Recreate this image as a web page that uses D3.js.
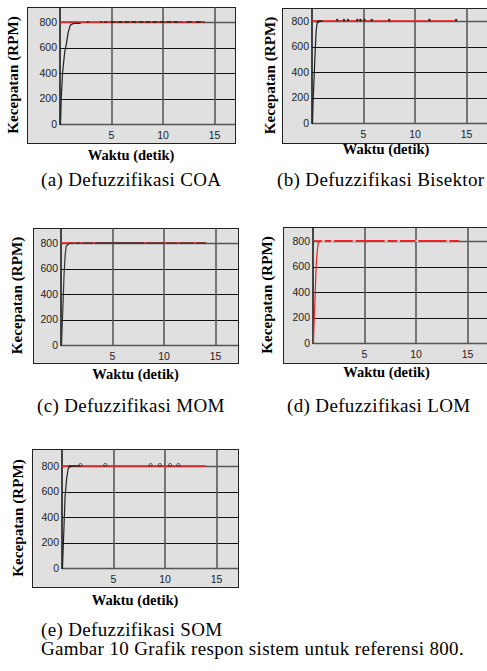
<!DOCTYPE html>
<html>
<head>
<meta charset="utf-8">
<script src="https://cdn.jsdelivr.net/npm/d3@7"></script>
<style>
  body { margin: 0; background: #fff; }
  svg { display: block; }
  .serif { font-family: "Liberation Serif", "Times New Roman", serif; }
  .sans { font-family: "Liberation Sans", Arial, sans-serif; }
</style>
</head>
<body>
<script>
// tick values shared by all five plots
var yTicks = [0, 200, 400, 600, 800]
var xTicks = [5, 10, 15]
var reference = 800
var refEnd = 14

// rising part of each response, [detik, rpm]
var riseCOA = [[0, 0], [0.05, 0], [0.12, 200], [0.25, 400], [0.45, 560], [0.6, 620], [0.8, 720], [1.0, 775], [1.2, 785], [1.6, 790], [2.0, 790]]
var riseBIS = [[0, 0], [0.05, 0], [0.1, 150], [0.2, 350], [0.3, 550], [0.4, 720], [0.5, 785], [0.7, 795], [1.0, 800]]
var riseMOM = [[0, 0], [0.05, 0], [0.1, 120], [0.2, 330], [0.3, 560], [0.4, 700], [0.5, 775], [0.7, 790], [0.9, 800]]
var riseLOM = [[0, 0], [0.05, 0], [0.1, 150], [0.2, 350], [0.3, 600], [0.4, 710], [0.5, 780], [0.65, 795], [0.8, 800]]
var riseSOM = [[0, 0], [0.05, 0], [0.1, 120], [0.2, 340], [0.3, 560], [0.45, 700], [0.6, 780], [0.8, 795], [1.0, 800]]

// steady-state stretches where the response sits on top of the reference
var steadyCOA = [[2.6, 2.8], [3.9, 4.1], [4.3, 4.6], [4.9, 11.8], [12.3, 13.0], [13.2, 14.0]]
var steadyBIS = [[0.5, 1.0]]
var steadyMOM = [[0.9, 1.2], [1.4, 1.9], [2.1, 3.1], [3.3, 8.1], [8.3, 10.0], [10.2, 11.3], [11.5, 12.9], [13.1, 14.1]]
var steadyLOM = [[0.8, 14.2]]
var steadySOM = [[0.6, 1.7]]

// small ripples seen along the 800 line
var ripplesCOA = []
var ripplesBIS = [2.45, 3.1, 3.5, 4.4, 4.7, 5.1, 5.8, 7.5, 11.4, 14.0]
var ripplesMOM = []
var ripplesLOM = [1.0, 1.9, 4.0, 7.1, 8.3, 10.1, 13.1]
var ripplesSOM = [1.8, 4.2, 8.6, 9.5, 10.5, 11.3]

var captions = ["(a) Defuzzifikasi COA", "(b) Defuzzifikasi Bisektor", "(c) Defuzzifikasi MOM",
                "(d) Defuzzifikasi LOM", "(e) Defuzzifikasi SOM"]
var figureTitle = "Gambar 10 Grafik respon sistem untuk referensi 800."

var width = 487
var height = 671

// where each small plot sits on the page
var panels = [
    {x: 27, y: 7, w: 208, h: 136, left: 33, bottom: 19, xlab: 17, ylab: -14, cap: [41, 186],
     rise: riseCOA, steady: steadyCOA, ripples: ripplesCOA, color: "#222", ripple: "dot"},
    {x: 282, y: 8, w: 208, h: 135, left: 30, bottom: 20, xlab: 11, ylab: -12, cap: [277, 186],
     rise: riseBIS, steady: steadyBIS, ripples: ripplesBIS, color: "#222", ripple: "dot"},
    {x: 33, y: 228, w: 205, h: 135, left: 28, bottom: 18, xlab: 16, ylab: -16, cap: [37, 412],
     rise: riseMOM, steady: steadyMOM, ripples: ripplesMOM, color: "#333", ripple: "dot"},
    {x: 283, y: 227, w: 207, h: 136, left: 30, bottom: 20, xlab: 14, ylab: -16, cap: [287, 412],
     rise: riseLOM, steady: steadyLOM, ripples: ripplesLOM, color: "#ee2222", ripple: "gap"},
    {x: 32, y: 449, w: 206, h: 138, left: 30, bottom: 19, xlab: 18, ylab: -14, cap: [41, 636],
     rise: riseSOM, steady: steadySOM, ripples: ripplesSOM, color: "#222", ripple: "ring"}
]

var svg = d3.select("body")
    .append("svg")
    .attr("width", width)
    .attr("height", height)

panels.forEach(function (p, i) {
    var g = svg.append("g").attr("transform", "translate(" + p.x + "," + p.y + ")")

    var x0 = p.left
    var y0 = p.h - p.bottom
    var xScale = d3.scaleLinear().domain([0, 5]).range([x0, x0 + 51.5])
    var yScale = d3.scaleLinear().domain([0, 800]).range([y0, y0 - 102])

    //grey panel with thin frame
    g.append("rect")
        .attr("x", 0.5).attr("y", 0.5)
        .attr("width", p.w).attr("height", p.h)
        .attr("fill", "#e0e0e0")
        .attr("stroke", "#222")

    //horizontal grid
    g.selectAll(".hgrid")
        .data(yTicks.filter((d) => d > 0))
        .enter()
        .append("line")
        .attr("x1", x0).attr("x2", p.w)
        .attr("y1", (d) => Math.round(yScale(d)) + 0.5)
        .attr("y2", (d) => Math.round(yScale(d)) + 0.5)
        .attr("stroke", (d) => d == 800 ? "#555" : "#111")
        .attr("stroke-width", (d) => d == 800 ? 1.5 : 1)

    //vertical grid
    g.selectAll(".vgrid")
        .data(xTicks)
        .enter()
        .append("line")
        .attr("x1", (d) => Math.round(xScale(d)))
        .attr("x2", (d) => Math.round(xScale(d)))
        .attr("y1", 0.5).attr("y2", y0)
        .attr("stroke", "#5a5a5a")
        .attr("stroke-width", 1.6)

    //x axis (time) line
    g.append("line")
        .attr("x1", x0).attr("x2", p.w)
        .attr("y1", y0 + 0.5).attr("y2", y0 + 0.5)
        .attr("stroke", "#555")
        .attr("stroke-width", 1.5)

    //y axis line
    g.append("line")
        .attr("x1", x0).attr("x2", x0)
        .attr("y1", 0.5).attr("y2", y0 + 1)
        .attr("stroke", "#111")
        .attr("stroke-width", 1.5)

    //tick labels
    g.selectAll(".ylab")
        .data(yTicks)
        .enter()
        .append("text")
        .attr("class", "sans")
        .attr("x", x0 - 3)
        .attr("y", (d) => yScale(d))
        .attr("dy", "0.36em")
        .attr("text-anchor", "end")
        .attr("font-size", 10.5)
        .attr("fill", "#222")
        .text((d) => d)

    g.selectAll(".xlab")
        .data(xTicks)
        .enter()
        .append("text")
        .attr("class", "sans")
        .attr("x", (d) => xScale(d))
        .attr("y", y0 + 15)
        .attr("text-anchor", "middle")
        .attr("font-size", 10.5)
        .attr("fill", "#222")
        .text((d) => d)

    var line = d3.line()
        .x((d) => xScale(d[0]))
        .y((d) => yScale(d[1]))

    //reference 800 rpm
    g.append("path")
        .datum([[0, reference], [refEnd, reference]])
        .attr("d", line)
        .attr("fill", "none")
        .attr("stroke", "#ff1a1a")
        .attr("stroke-width", 1.6)

    //system response
    g.append("path")
        .datum(p.rise)
        .attr("d", line)
        .attr("fill", "none")
        .attr("stroke", p.color)
        .attr("stroke-width", 1.2)

    g.selectAll(".steady")
        .data(p.steady)
        .enter()
        .append("path")
        .attr("d", (d) => line([[d[0], reference], [d[1], reference]]))
        .attr("fill", "none")
        .attr("stroke", p.color)
        .attr("stroke-width", p.ripple == "gap" ? 2 : 1.3)
        .attr("stroke-dasharray", i == 0 ? "5,2" : null)

    //ripples
    if (p.ripple == "gap") {
        g.selectAll(".rip")
            .data(p.ripples)
            .enter()
            .append("line")
            .attr("x1", (d) => xScale(d) - 1.5)
            .attr("x2", (d) => xScale(d) + 1.5)
            .attr("y1", yScale(reference)).attr("y2", yScale(reference))
            .attr("stroke", "#f6b8b8")
            .attr("stroke-width", 2)
    } else {
        g.selectAll(".rip")
            .data(p.ripples)
            .enter()
            .append("circle")
            .attr("cx", (d) => xScale(d))
            .attr("cy", yScale(reference) - 1)
            .attr("r", p.ripple == "ring" ? 1.6 : 0.9)
            .attr("fill", p.ripple == "ring" ? "none" : "#222")
            .attr("stroke", "#222")
            .attr("stroke-width", 0.7)
    }

    //axis titles
    g.append("text")
        .attr("class", "serif")
        .attr("x", p.w / 2)
        .attr("y", p.h + p.xlab)
        .attr("text-anchor", "middle")
        .attr("font-weight", "bold")
        .attr("font-size", 14.5)
        .text("Waktu (detik)")

    g.append("text")
        .attr("class", "serif")
        .attr("transform", "translate(" + p.ylab + "," + (p.h / 2) + ") rotate(-90)")
        .attr("dy", "0.35em")
        .attr("text-anchor", "middle")
        .attr("font-weight", "bold")
        .attr("font-size", 15.2)
        .text("Kecepatan (RPM)")

    //caption under the plot
    svg.append("text")
        .attr("class", "serif")
        .attr("x", p.cap[0])
        .attr("y", p.cap[1])
        .attr("font-size", 19)
        .attr("letter-spacing", 0.35)
        .text(captions[i])
})

svg.append("text")
    .attr("class", "serif")
    .attr("x", 41)
    .attr("y", 655)
    .attr("font-size", 19)
    .attr("letter-spacing", 0.35)
    .text(figureTitle)
</script>
</body>
</html>
